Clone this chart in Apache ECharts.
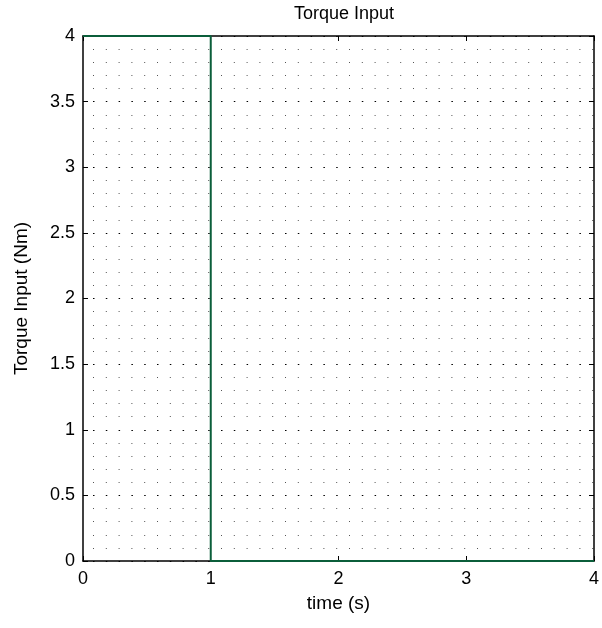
<!DOCTYPE html>
<html>
<head>
<meta charset="utf-8">
<script src="https://cdn.jsdelivr.net/npm/echarts@6/dist/echarts.min.js"></script>
<style>
  html, body { margin: 0; padding: 0; background: #fff; }
  #chart { width: 602px; height: 628px; }
</style>
</head>
<body>
<div id="chart"></div>
<script>
// Step torque input: 4 Nm for the first second, then zero
var timeValues = [0, 1, 1, 4];
var torqueValues = [4, 4, 0, 0];
var xTicks = [0, 1, 2, 3, 4];
var yTicks = [0, 0.5, 1, 1.5, 2, 2.5, 3, 3.5, 4];

var FONT = '"Liberation Sans", Arial, sans-serif';
var stepData = timeValues.map(function (t, i) { return [t, torqueValues[i]]; });

var chart = echarts.init(document.getElementById('chart'), null, { renderer: 'canvas' });

var boxAxis = { show: true, onZero: false, lineStyle: { color: '#000', width: 1.5 } };
var inTick = { show: true, inside: true, length: 5, lineStyle: { color: '#000', width: 1 } };

chart.setOption({
  animation: false,
  backgroundColor: '#fff',
  title: {
    text: 'Torque Input',
    left: 339, top: 0, textAlign: 'center',
    textStyle: { fontFamily: FONT, fontSize: 18, fontWeight: 'normal', color: '#000' }
  },
  grid: { left: 83, right: 7, top: 36, bottom: 67 },
  xAxis: [{
    type: 'value', min: xTicks[0], max: xTicks[xTicks.length - 1], interval: 1,
    name: 'time (s)', nameLocation: 'middle', nameGap: 33,
    nameTextStyle: { fontFamily: FONT, fontSize: 19, color: '#000' },
    axisLine: boxAxis, axisTick: inTick,
    axisLabel: { margin: 9, fontFamily: FONT, fontSize: 18, color: '#000' },
    splitLine: { show: false }
  }, {
    type: 'value', position: 'top', min: 0, max: 4, interval: 1,
    axisLine: boxAxis, axisTick: inTick, axisLabel: { show: false }, splitLine: { show: false }
  }],
  yAxis: [{
    type: 'value', min: yTicks[0], max: yTicks[yTicks.length - 1], interval: 0.5,
    name: 'Torque Input (Nm)', nameLocation: 'middle', nameGap: 52,
    nameTextStyle: { fontFamily: FONT, fontSize: 19, color: '#000' },
    axisLine: boxAxis, axisTick: inTick,
    axisLabel: { margin: 8, fontFamily: FONT, fontSize: 18, color: '#000' },
    minorTick: { show: false, splitNumber: 5 },
    splitLine: { show: true, lineStyle: { color: '#000', width: 1.2, type: [1.5, 11.3], dashOffset: 2.8 } },
    minorSplitLine: { show: true, lineStyle: { color: '#555', width: 1, type: [1, 11.8], dashOffset: 2.8 } }
  }, {
    type: 'value', position: 'right', min: 0, max: 4, interval: 0.5,
    axisLine: boxAxis, axisTick: inTick, axisLabel: { show: false }, splitLine: { show: false }
  }],
  series: [{
    type: 'line',
    data: stepData,
    showSymbol: false,
    clip: false,
    lineStyle: { color: '#0b5e3a', width: 2 },
    z: 5
  }]
});
</script>
</body>
</html>
